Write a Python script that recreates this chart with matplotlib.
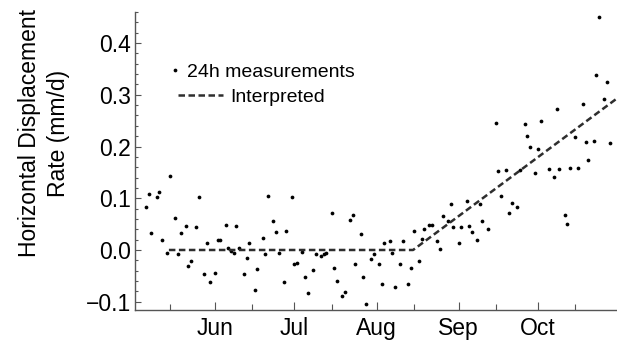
import numpy as np
import pandas as pd
import matplotlib
matplotlib.use("Agg")
import matplotlib.pyplot as plt
import matplotlib.dates as mdates
from matplotlib.ticker import MultipleLocator

plt.rcParams['font.family'] = ['Liberation Sans', 'DejaVu Sans']

# day offsets from 1 June, and daily rate values (mm/d)
base_date = pd.Timestamp('2015-06-01')
days = [-26, -25, -24, -22, -21, -20, -18, -17, -15, -14, -13, -11, -10, -9, -7, -6,
        -4, -3, -2, 0, 1, 2, 4, 5, 6, 7, 8, 9, 11, 12, 13, 15, 16, 18, 19, 20,
        22, 23, 24, 26, 27, 29, 30, 31, 33, 34, 35, 37, 38, 40, 41, 42, 44, 45,
        46, 48, 49, 51, 52, 53, 55, 56, 57, 59, 60, 62, 63, 64, 66, 67, 68, 70,
        71, 73, 74, 75, 77, 78, 79, 81, 82, 84, 85, 86, 88, 89, 90, 92, 93, 95,
        96, 97, 99, 100, 101, 103, 106, 107, 108, 110, 111, 112, 114, 115, 117, 118, 119, 121,
        122, 123, 126, 128, 129, 130, 132, 133, 134, 136, 137, 139, 140, 141, 143, 144,
        145, 147, 148, 149]
rate = [0.084, 0.108, 0.032, 0.103, 0.112, 0.020, -0.006, 0.143, 0.062, -0.008, 0.032, 0.046,
        -0.030, -0.022, 0.044, 0.103, -0.046, 0.014, -0.062, -0.044, 0.020, 0.020, 0.049, 0.004,
        -0.001, -0.006, 0.046, 0.004, -0.046, -0.015, 0.014, -0.077, -0.036, 0.023, -0.008, 0.105,
        0.056, 0.034, -0.006, -0.062, 0.037, 0.103, -0.027, -0.025, -0.004, -0.053, -0.084, -0.039,
        -0.008, -0.011, -0.008, -0.006, 0.072, -0.034, -0.060, -0.088, -0.081, 0.058, 0.068, -0.027,
        0.030, -0.053, -0.105, -0.017, -0.008, -0.027, -0.065, 0.014, 0.018, -0.006, -0.072, -0.027,
        0.018, -0.065, -0.034, 0.037, -0.022, 0.021, 0.041, 0.048, 0.048, 0.017, 0.001, 0.065,
        0.056, 0.088, 0.044, 0.014, 0.044, 0.095, 0.046, 0.034, 0.020, 0.088, 0.056, 0.041,
        0.246, 0.152, 0.105, 0.155, 0.072, 0.091, 0.084, 0.154, 0.244, 0.221, 0.199, 0.148,
        0.195, 0.249, 0.157, 0.141, 0.273, 0.157, 0.067, 0.051, 0.159, 0.219, 0.159, 0.282,
        0.209, 0.173, 0.211, 0.338, 0.450, 0.291, 0.324, 0.206]

# interpreted trend: flat, then linear increase
trend_days = [-17.4, 74.8, 151.8]
trend_rate = [0.0, 0.0, 0.293]

dates = base_date + pd.to_timedelta(days, unit='D')
trend_dates = base_date + pd.to_timedelta(trend_days, unit='D')

fig = plt.figure(figsize=(6.17, 3.44), dpi=100)
ax = fig.add_axes([135 / 617, 34 / 344, 482 / 617, 298 / 344])

pts, = ax.plot(dates, rate, 'o', color='black', markersize=2.7, markeredgewidth=0,
               label='24h measurements')
ln, = ax.plot(trend_dates, trend_rate, color='#2e2e2e', linewidth=1.8,
              dashes=(2.6, 1.4), label='Interpreted')

ax.set_xlim(base_date + pd.Timedelta(days=-30.2), base_date + pd.Timedelta(days=151.8))
ax.set_ylim(-0.116, 0.460)

ax.xaxis.set_major_locator(mdates.MonthLocator(bymonth=[6, 7, 8, 9, 10]))
ax.xaxis.set_major_formatter(mdates.DateFormatter('%b'))
ax.xaxis.set_minor_locator(mdates.MonthLocator(bymonthday=15))
ax.yaxis.set_major_locator(MultipleLocator(0.1))
ax.yaxis.set_minor_locator(MultipleLocator(0.02))
ax.yaxis.set_major_formatter(plt.FuncFormatter(lambda v, p: f"{v:.1f}".replace('-', '\u2212')))

for s in ['top', 'right']:
    ax.spines[s].set_visible(False)
for s in ['left', 'bottom']:
    ax.spines[s].set_color('#555555')
    ax.spines[s].set_linewidth(1.0)

ax.tick_params(axis='both', which='both', direction='in', colors='#555555',
               labelcolor='black', labelsize=16.5, width=0.8)
ax.tick_params(axis='x', which='major', length=6, pad=5)
ax.tick_params(axis='x', which='minor', length=4)
ax.tick_params(axis='y', which='major', length=4, pad=3)
ax.tick_params(axis='y', which='minor', length=2.5)

fig.text(44 / 617, 1 - 133 / 344, 'Horizontal Displacement\nRate (mm/d)', rotation=90,
         ha='center', va='center', multialignment='center', fontsize=16.5, linespacing=1.35)

leg1 = ax.legend(handles=[pts], loc='center left', bbox_to_anchor=(170 / 617, 1 - 72 / 344),
                 bbox_transform=fig.transFigure, frameon=False, fontsize=14, numpoints=1,
                 handlelength=0.55, handletextpad=0.3, borderpad=0, borderaxespad=0)
ax.add_artist(leg1)
ax.legend(handles=[ln], loc='center left', bbox_to_anchor=(178 / 617, 1 - 97 / 344),
          bbox_transform=fig.transFigure, frameon=False, fontsize=14,
          handlelength=2.3, handletextpad=0.4, borderpad=0, borderaxespad=0)

fig.savefig('out.png', dpi=100)
